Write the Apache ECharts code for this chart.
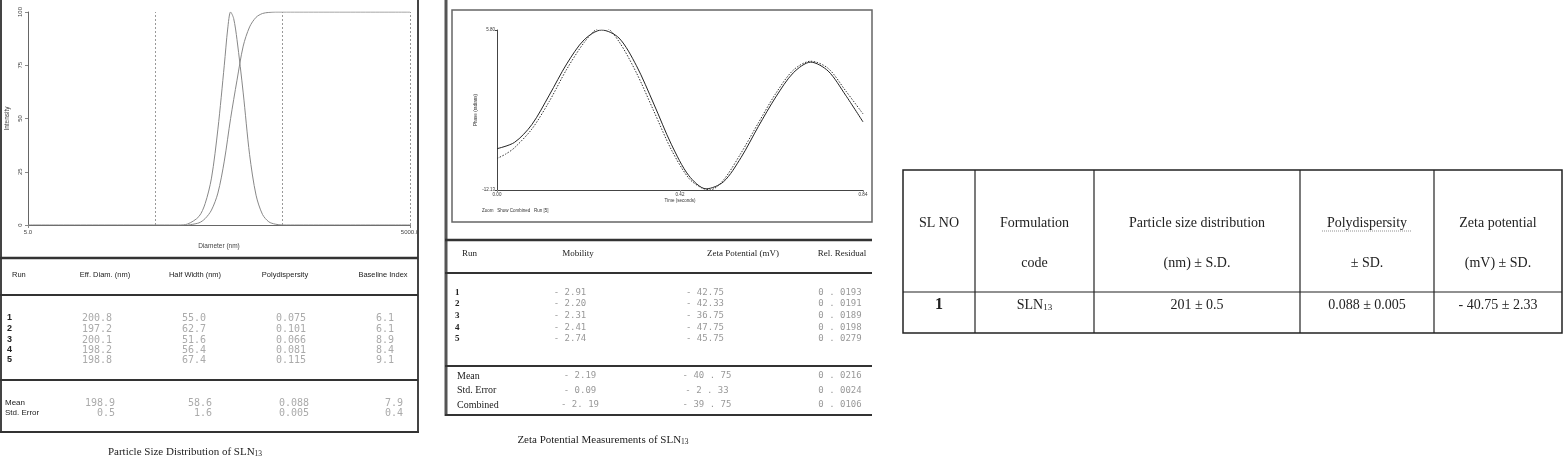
<!DOCTYPE html>
<html><head><meta charset="utf-8">
<script src="https://cdn.jsdelivr.net/npm/echarts@6/dist/echarts.min.js"></script>
<style>html,body{margin:0;padding:0;background:#fff}#c{width:1567px;height:468px}</style>
</head><body><div id="c"></div>
<script>
// ---- Particle size distribution (left plot) ----
const diamDist = [[5,0],[76,0],[90,0.5],[110,4],[123,10],[138,22],[155,45],[174,75],[185,92],[195,100],[206,97],[219,87],[245,62],[275,33],[309,14],[347,5],[389,1.5],[437,0.4],[500,0],[5000,0]];
const diamCum = [[90,0],[110,1],[123,3],[138,7],[155,15],[174,30],[195,50],[219,68],[245,84],[275,93],[309,97.5],[347,99.3],[389,99.8],[437,100],[500,100],[5000,100]];
const sizeXTicks = [5,5000];
// ---- Zeta phase plot (middle) ----
const phaseFit = [[0,-7.5],[0.04,-6.8],[0.08,-4.8],[0.12,-1.5],[0.16,2],[0.20,4.7],[0.24,5.8],[0.28,4.9],[0.32,1.8],[0.36,-2.5],[0.40,-7],[0.44,-10.5],[0.48,-12],[0.52,-11.2],[0.56,-8.5],[0.60,-5],[0.64,-1.7],[0.68,1],[0.72,2.2],[0.76,1.2],[0.80,-1.5],[0.84,-4.5]];
const phaseData = [[0,-8.6],[0.02,-8.1],[0.04,-7.4],[0.08,-5.3],[0.12,-2.2],[0.16,1.4],[0.20,4.4],[0.23,5.9],[0.25,6.0],[0.28,4.5],[0.32,1.0],[0.36,-3.3],[0.40,-7.6],[0.44,-10.8],[0.47,-11.9],[0.49,-12.1],[0.52,-11.0],[0.56,-8.0],[0.60,-4.6],[0.64,-1.3],[0.68,1.3],[0.72,2.3],[0.76,1.5],[0.80,-1.0],[0.84,-3.6]];
const phaseXTicks = [0,0.42,0.84];
const phaseYTicks = [-12.13,5.80];
// ---- Tables ----
const sizeHeaders = ['Run','Eff. Diam. (nm)','Half Width (nm)','Polydispersity','Baseline Index'];
const sizeRuns = ['1','2','3','4','5'];
const effDiam = ['200.8','197.2','200.1','198.2','198.8'];
const halfWidth = ['55.0','62.7','51.6','56.4','67.4'];
const polyd = ['0.075','0.101','0.066','0.081','0.115'];
const baseline = ['6.1','6.1','8.9','8.4','9.1'];
const sizeSummaryLabels = ['Mean','Std. Error'];
const sizeSummary = [['198.9','58.6','0.088','7.9'],['0.5','1.6','0.005','0.4']];
const zetaHeaders = ['Run','Mobility','Zeta Potential (mV)','Rel. Residual'];
const mobility = ['- 2.91','- 2.20','- 2.31','- 2.41','- 2.74'];
const zetaPot = ['- 42.75','- 42.33','- 36.75','- 47.75','- 45.75'];
const relRes = ['0 . 0193','0 . 0191','0 . 0189','0 . 0198','0 . 0279'];
const zetaSummaryLabels = ['Mean','Std. Error','Combined'];
const zetaSummary = [['- 2.19','- 40 . 75','0 . 0216'],['- 0.09','- 2 . 33','0 . 0024'],['- 2. 19','- 39 . 75','0 . 0106']];
const sumHead1 = ['SL NO','Formulation','Particle size distribution','Polydispersity','Zeta potential'];
const sumHead2 = ['','code','(nm) ± S.D.','± SD.','(mV) ± SD.'];
const sumRow = ['1','SLN','201 ± 0.5','0.088 ± 0.005','- 40.75 ± 2.33'];

const G = [];
const line = (x1,y1,x2,y2,w,c,dash)=>G.push({type:'line',shape:{x1,y1,x2,y2},style:{stroke:c||'#333',lineWidth:w||1,lineDash:dash}});
const rect = (x,y,w,h,lw,c)=>G.push({type:'rect',shape:{x,y,width:w,height:h},style:{fill:'none',stroke:c||'#333',lineWidth:lw||1}});
const txt = (x,y,t,o)=>G.push({type:'text',x,y,style:Object.assign({text:t,fill:'#222',font:'9px "Liberation Sans"',align:'center',verticalAlign:'middle'},o||{})});
const mono = '10px "DejaVu Sans Mono"';

// left panel frame
line(1,0,1,432,2,'#444'); line(418,0,418,432,2,'#444');
line(0,258,418,258,2.5,'#333'); line(0,295,418,295,2,'#333'); line(0,380,418,380,2,'#333'); line(0,432,419,432,2,'#333');
const sx = [12,105,195,285,383];
sizeHeaders.forEach((h,i)=>txt(sx[i],275,h,{font:'7.5px "Liberation Sans"',align:i?'center':'left'}));
const sv = [97,194,291,385];
const sy = [318,329,340,350,360];
sizeRuns.forEach((r,i)=>{
  txt(7,sy[i],r,{font:'bold 9px "Liberation Sans"',align:'left'});
  [effDiam,halfWidth,polyd,baseline].forEach((a,j)=>txt(sv[j],sy[i],a[i],{font:mono,fill:'#aaa'}));
});
sizeSummaryLabels.forEach((l,i)=>{
  txt(5,403+i*10,l,{font:'8px "Liberation Sans"',align:'left'});
  sizeSummary[i].forEach((v,j)=>txt(sv[j]+18,403+i*10,v,{font:mono,fill:'#aaa',align:'right'}));
});
G.push({type:'text',x:185,y:452,style:{rich:{a:{font:'11px "Liberation Serif"',fill:'#222'},s:{font:'7.5px "Liberation Serif"',fill:'#222',padding:[5,0,0,0]}},text:'{a|Particle Size Distribution of SLN}{s|13}',align:'center',verticalAlign:'middle'}});

// middle panel frame
line(446,0,446,416,3,'#555');
rect(452,10,420,212,1.5,'#666');
line(445,240,872,240,2.5,'#333'); line(445,273,872,273,2,'#333'); line(445,366,872,366,2,'#333'); line(445,415,872,415,2,'#333');
txt(482,211,'Zoom   Show Combined   Run [5]',{font:'4.5px "Liberation Sans"',fill:'#333',align:'left'});
const zx = [462,578,743,842];
zetaHeaders.forEach((h,i)=>txt(zx[i],254,h,{font:'9px "Liberation Serif"',align:i?'center':'left'}));
const zv = [570,705,840];
const zy = [293,304,316,328,339];
zy.forEach((y,i)=>{
  txt(455,y,sizeRuns[i],{font:'bold 9px "Liberation Serif"',align:'left'});
  [mobility,zetaPot,relRes].forEach((a,j)=>txt(zv[j],y,a[i],{font:'9px "DejaVu Sans Mono"',fill:'#999'}));
});
zetaSummaryLabels.forEach((l,i)=>{
  txt(457,376+i*14.5,l,{font:'10px "Liberation Serif"',align:'left'});
  zetaSummary[i].forEach((v,j)=>txt([580,707,840][j],376+i*14.5,v,{font:'9px "DejaVu Sans Mono"',fill:'#999'}));
});
G.push({type:'text',x:603,y:440,style:{rich:{a:{font:'11px "Liberation Serif"',fill:'#222'},s:{font:'7.5px "Liberation Serif"',fill:'#222',padding:[5,0,0,0]}},text:'{a|Zeta Potential Measurements of SLN}{s|13}',align:'center',verticalAlign:'middle'}});

// right summary table
const cb = [903,975,1094,1300,1434,1562];
rect(903,170,659,163,1.5,'#222');
cb.slice(1,-1).forEach(x=>line(x,170,x,333,1.2,'#222'));
line(903,292,1562,292,1.2,'#222');
const tf = '14px "Liberation Serif"';
for(let i=0;i<5;i++){
  const cx=(cb[i]+cb[i+1])/2;
  txt(cx,223,sumHead1[i],{font:tf,fill:'#222'});
  if(sumHead2[i]) txt(cx,263,sumHead2[i],{font:tf,fill:'#222'});
  if(i==1) G.push({type:'text',x:cx,y:305,style:{rich:{a:{font:tf,fill:'#222'},s:{font:'9px "Liberation Serif"',fill:'#222',padding:[6,0,0,0]}},text:'{a|SLN}{s|13}',align:'center',verticalAlign:'middle'}});
  else txt(i==0?939:cx,305,sumRow[i],{font:(i==0?'bold 16px':'14px')+' "Liberation Serif"',fill:'#222'});
}
line(1322,231,1411,231,0.8,'#777',[1,1]);

const ax = {color:'#888'};
const chart = echarts.init(document.getElementById('c'));
chart.setOption({
  animation:false,
  grid:[{left:28,top:12,width:382,height:213},{left:497,top:30,width:366,height:160}],
  xAxis:[
    {gridIndex:0,type:'log',min:5,max:5000,logBase:10,splitLine:{show:false},
     axisLine:{lineStyle:{color:'#666'}},axisTick:{customValues:sizeXTicks,length:3,lineStyle:ax},
     axisLabel:{customValues:sizeXTicks,formatter:v=>v.toFixed(1),fontSize:6,color:'#444',fontFamily:'Liberation Sans',margin:4},
     name:'Diameter (nm)',nameLocation:'middle',nameGap:18,nameTextStyle:{fontSize:6.5,color:'#444'}},
    {gridIndex:1,type:'value',min:0,max:0.84,splitLine:{show:false},
     axisLine:{onZero:false,lineStyle:{color:'#444'}},axisTick:{customValues:phaseXTicks,length:2,lineStyle:ax},
     axisLabel:{customValues:phaseXTicks,formatter:v=>v.toFixed(2),fontSize:4.5,color:'#333',margin:2},
     name:'Time (seconds)',nameLocation:'middle',nameGap:8,nameTextStyle:{fontSize:4.5,color:'#333'}}
  ],
  yAxis:[
    {gridIndex:0,type:'value',min:0,max:100,interval:25,splitLine:{show:false},
     axisLine:{show:true,lineStyle:{color:'#666'}},axisTick:{show:true,length:3,lineStyle:ax},
     axisLabel:{fontSize:6,color:'#444',rotate:90,margin:5},
     name:'Intensity',nameLocation:'middle',nameGap:17,nameTextStyle:{fontSize:6.5,color:'#444'}},
    {gridIndex:1,type:'value',min:-12.13,max:5.80,splitLine:{show:false},
     axisLine:{show:true,onZero:false,lineStyle:{color:'#444'}},axisTick:{customValues:phaseYTicks,length:2},
     axisLabel:{customValues:phaseYTicks,formatter:v=>v.toFixed(2),fontSize:4.5,color:'#333',margin:2},
     name:'Phase (radians)',nameLocation:'middle',nameGap:14,nameTextStyle:{fontSize:4.5,color:'#333'}}
  ],
  series:[
    {type:'line',xAxisIndex:0,yAxisIndex:0,data:diamDist,smooth:0.3,showSymbol:false,lineStyle:{color:'#888',width:1},
     markLine:{silent:true,symbol:'none',label:{show:false},lineStyle:{color:'#999',type:[2,2],width:1},data:[{xAxis:50},{xAxis:500},{xAxis:5000}]}},
    {type:'line',xAxisIndex:0,yAxisIndex:0,data:diamCum,smooth:0.3,showSymbol:false,lineStyle:{color:'#888',width:1}},
    {type:'line',xAxisIndex:1,yAxisIndex:1,data:phaseFit,smooth:0.3,showSymbol:false,lineStyle:{color:'#222',width:1}},
    {type:'line',xAxisIndex:1,yAxisIndex:1,data:phaseData,smooth:0.3,showSymbol:false,lineStyle:{color:'#333',width:1,type:[1.5,1.5]}}
  ],
  graphic:G
});
</script></body></html>
